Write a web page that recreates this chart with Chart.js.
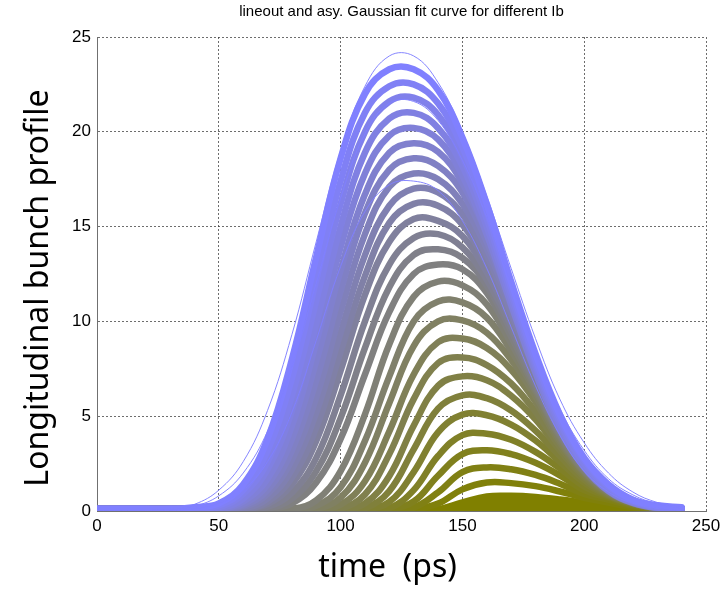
<!DOCTYPE html>
<html>
<head>
<meta charset="utf-8">
<title>lineout and asy. Gaussian fit curve</title>
<script src="https://cdn.jsdelivr.net/npm/chart.js@4.4.1/dist/chart.umd.min.js"></script>
<style>
  html, body { margin: 0; padding: 0; background: #fff; }
  #wrap { width: 728px; height: 593px; }
</style>
</head>
<body>
<div id="wrap"><canvas id="chart"></canvas></div>
<script>
// time axis (ps), one sample every 10 ps
const times = [0,10,20,30,40,50,60,70,80,90,100,110,120,130,140,150,160,170,180,190,200,210,220,230,240];

// measured lineouts, highest bunch current first
const p00 = [0.1,0.1,0.1,0.1,0.2,0.4,1.4,3.8,8.0,13.4,18.6,22.0,23.3,23.3,22.2,19.7,16.2,12.1,8.3,5.1,2.8,1.4,0.6,0.3,0.2];
const p01 = [0.1,0.1,0.1,0.1,0.1,0.3,1.1,3.2,7.0,12.2,17.4,21.0,22.4,22.5,21.5,19.2,15.8,11.8,8.0,4.9,2.7,1.3,0.57,0.21,0.12];
const p02 = [0.1,0.1,0.1,0.1,0.1,0.2,0.9,2.6,6.1,11.1,16.2,20.0,21.6,21.8,20.9,18.7,15.4,11.5,7.8,4.7,2.5,1.2,0.52,0.2,0.1];
const p03 = [0.1,0.1,0.1,0.1,0.1,0.15,0.65,2.2,5.3,9.9,15.0,18.9,20.7,21.0,20.2,18.2,15.0,11.2,7.6,4.5,2.4,1.1,0.48,0.18,0.1];
const p04 = [0.1,0.1,0.1,0.1,0.1,0.1,0.5,1.7,4.5,8.9,13.9,17.8,19.8,20.2,19.6,17.7,14.6,10.9,7.3,4.3,2.3,1.05,0.43,0.16,0.1];
const p05 = [0.1,0.1,0.1,0.1,0.1,0.1,0.37,1.4,3.8,7.9,12.7,16.7,18.9,19.4,18.95,17.3,14.6,11.2,7.75,4.8,2.65,1.3,0.56,0.22,0.1];
const p06 = [0.1,0.1,0.1,0.1,0.1,0.1,0.28,1.1,3.2,6.9,11.6,15.7,18.0,18.6,18.2,16.8,14.2,11.0,7.6,4.75,2.6,1.3,0.57,0.22,0.1];
const p07 = [0.1,0.1,0.1,0.1,0.1,0.1,0.2,0.9,2.7,6.0,10.5,14.6,17.1,17.8,17.5,16.2,13.85,10.8,7.5,4.7,2.6,1.3,0.57,0.22,0.1];
const p08 = [0.1,0.1,0.1,0.1,0.1,0.1,0.14,0.66,2.2,5.2,9.4,13.5,16.1,17.0,16.8,15.65,13.5,10.5,7.4,4.7,2.6,1.3,0.56,0.22,0.1];
const p09 = [0.1,0.1,0.1,0.1,0.1,0.1,0.1,0.49,1.75,4.4,8.4,12.4,15.2,16.2,16.1,15.1,13.05,10.3,7.3,4.65,2.6,1.3,0.56,0.22,0.1];
const p10 = [0.1,0.1,0.1,0.1,0.1,0.1,0.1,0.37,1.4,3.7,7.4,11.4,14.2,15.4,15.3,14.5,12.6,10.0,7.15,4.6,2.6,1.3,0.55,0.22,0.1];
const p11 = [0.1,0.1,0.1,0.1,0.1,0.1,0.1,0.23,0.96,2.8,6.1,10.0,13.0,14.4,14.6,13.9,12.2,9.75,6.9,4.42,2.47,1.21,0.51,0.19,0.1];
const p12 = [0.1,0.1,0.1,0.1,0.1,0.1,0.1,0.13,0.65,2.1,4.9,8.6,11.8,13.5,13.8,13.35,11.9,9.5,6.75,4.2,2.35,1.15,0.48,0.18,0.1];
const p13 = [0.1,0.1,0.1,0.1,0.1,0.1,0.1,0.1,0.4,1.5,3.8,7.2,10.5,12.5,13.0,12.75,11.5,9.2,6.6,4.1,2.25,1.1,0.46,0.17,0.1];
const p14 = [0.1,0.1,0.1,0.1,0.1,0.1,0.1,0.1,0.1,0.56,2.1,5.1,8.8,11.3,12.1,11.9,10.9,8.85,6.45,4.0,2.15,1.05,0.45,0.16,0.1];
const p15 = [0.1,0.1,0.1,0.1,0.1,0.1,0.1,0.1,0.1,0.27,1.25,3.7,7.1,10.0,11.05,11.0,10.2,8.45,6.3,3.9,2.1,1.02,0.44,0.16,0.1];
const p16 = [0.1,0.1,0.1,0.1,0.1,0.1,0.1,0.1,0.1,0.11,0.7,2.55,5.7,8.7,10.0,10.05,9.4,7.98,6.05,3.75,2.05,0.98,0.43,0.15,0.1];
const p17 = [0.1,0.1,0.1,0.1,0.1,0.1,0.1,0.1,0.1,0.1,0.33,1.57,4.2,7.2,8.9,9.1,8.6,7.45,5.76,3.6,2.0,0.95,0.42,0.15,0.1];
const p18 = [0.1,0.1,0.1,0.1,0.1,0.1,0.1,0.1,0.1,0.1,0.13,0.87,3.0,5.9,7.8,8.1,7.7,6.73,5.24,3.4,1.9,0.92,0.41,0.14,0.1];
const p19 = [0.1,0.1,0.1,0.1,0.1,0.1,0.1,0.1,0.1,0.1,0.1,0.4,1.85,4.5,6.6,7.1,6.9,6.08,4.83,3.2,1.8,0.88,0.4,0.14,0.1];
const p20 = [0.1,0.1,0.1,0.1,0.1,0.1,0.1,0.1,0.1,0.1,0.1,0.15,1.05,3.25,5.4,6.1,5.95,5.3,4.24,2.9,1.65,0.84,0.38,0.13,0.1];
const p21 = [0.1,0.1,0.1,0.1,0.1,0.1,0.1,0.1,0.1,0.1,0.1,0.1,0.48,2.05,4.15,5.08,5.05,4.56,3.72,2.6,1.5,0.8,0.36,0.13,0.1];
const p22 = [0.1,0.1,0.1,0.1,0.1,0.1,0.1,0.1,0.1,0.1,0.1,0.1,0.15,1.1,2.9,4.0,4.08,3.76,3.12,2.25,1.3,0.76,0.34,0.12,0.1];
const p23 = [0.1,0.1,0.1,0.1,0.1,0.1,0.1,0.1,0.1,0.1,0.1,0.1,0.1,0.5,1.86,3.0,3.2,3.0,2.54,1.88,1.1,0.7,0.3,0.12,0.1];
const p24 = [0.1,0.1,0.1,0.1,0.1,0.1,0.1,0.1,0.1,0.1,0.1,0.1,0.1,0.18,0.98,2.05,2.3,2.2,1.9,1.44,0.9,0.6,0.26,0.11,0.1];
const p25 = [0.1,0.1,0.1,0.1,0.1,0.1,0.1,0.1,0.1,0.1,0.1,0.1,0.1,0.1,0.39,1.14,1.5,1.47,1.31,1.03,0.7,0.45,0.2,0.1,0.1];
const p26 = [0.1,0.1,0.1,0.1,0.1,0.1,0.1,0.1,0.1,0.1,0.1,0.1,0.1,0.1,0.1,0.45,0.77,0.8,0.74,0.61,0.44,0.27,0.14,0.1,0.1];

// asymmetric gaussian fit curves (thin lines)
const fit00 = [0,0,0.02,0.08,0.35,1.1,2.6,5.3,9.3,14.2,19.0,22.4,24.0,24.0,22.6,20.0,16.6,12.8,9.1,5.9,3.6,2.0,1.0,0.45,0.2];
const fit03 = [0,0,0.02,0.06,0.25,0.8,2.0,4.2,7.6,12.0,16.5,19.9,21.5,21.6,20.6,18.5,15.5,12.0,8.5,5.4,3.2,1.7,0.85,0.38,0.15];
const fit08 = [0,0,0,0.03,0.12,0.4,1.1,2.6,5.2,9.0,12.9,15.8,17.2,17.4,16.9,15.3,12.8,9.7,6.6,4.0,2.1,1.0,0.4,0.15,0.05];

const xTicks = [0, 50, 100, 150, 200, 250];
const yTicks = [0, 5, 10, 15, 20, 25];

const chartTitle = 'lineout and asy. Gaussian fit curve for different Ib';
const xTitle = 'time  (ps)';
const yTitle = 'Longitudinal bunch profile';

const profiles = [p00,p01,p02,p03,p04,p05,p06,p07,p08,p09,p10,p11,p12,p13,
                  p14,p15,p16,p17,p18,p19,p20,p21,p22,p23,p24,p25,p26];
const fits = [fit00, fit03, fit08];

function toPoints(arr) {
    return times.map((t, i) => ({ x: t, y: arr[i] }));
}

// blue for the top profile fading to olive for the lowest one
function profileColor(k) {
    const b = Math.round(255 * (1 - k / (profiles.length - 1)));
    return `rgb(128,128,${b})`;
}

const datasets = [];
fits.forEach((f, i) => {
    datasets.push({
        data: toPoints(f),
        borderColor: 'rgba(128,128,255,0.95)',
        borderWidth: 1,
        pointRadius: 0,
        tension: 0.4,
        order: i
    });
});
profiles.forEach((p, k) => {
    const last = k === profiles.length - 1;
    datasets.push({
        data: toPoints(p),
        borderColor: profileColor(k),
        backgroundColor: profileColor(k),
        borderWidth: 6.5,
        borderCapStyle: 'round',
        borderJoinStyle: 'round',
        pointRadius: 0,
        tension: 0.4,
        fill: last ? 'origin' : false,
        order: 10 + k
    });
});

const axisTitles = {
    id: 'axisTitles',
    afterDraw(chart) {
        const { ctx, chartArea } = chart;
        const midX = (chartArea.left + chartArea.right) / 2;
        const midY = (chartArea.top + chartArea.bottom) / 2;
        ctx.save();
        ctx.fillStyle = '#000';
        ctx.font = '32px "Noto Sans"';
        ctx.textAlign = 'center';
        ctx.textBaseline = 'alphabetic';
        ctx.fillText(xTitle, midX - 14, chartArea.bottom + 66);
        ctx.translate(48, midY + 14);
        ctx.rotate(-Math.PI / 2);
        ctx.fillText(yTitle, 0, 0);
        ctx.restore();
    }
};

const gridStyle = { color: 'rgba(60,60,60,0.75)', lineWidth: 1, drawTicks: false };
const borderStyle = { color: '#707070', width: 1, dash: [2, 2] };
const tickFont = { family: '"Liberation Sans", Arial, sans-serif', size: 17 };

new Chart(document.getElementById('chart'), {
    type: 'line',
    data: { datasets: datasets },
    plugins: [axisTitles],
    options: {
        responsive: true,
        maintainAspectRatio: false,
        animation: false,
        layout: { padding: { left: 0, right: 22, top: 0, bottom: 0 } },
        plugins: {
            legend: { display: false },
            tooltip: { enabled: false },
            title: {
                display: true,
                text: chartTitle,
                fullSize: false,
                color: '#000',
                font: { family: '"Liberation Sans", Arial, sans-serif', size: 15, weight: 'normal' },
                padding: { top: 3, bottom: 16 }
            }
        },
        scales: {
            x: {
                type: 'linear',
                min: xTicks[0],
                max: xTicks[xTicks.length - 1],
                z: 1,
                grid: gridStyle,
                border: borderStyle,
                afterBuildTicks: (scale) => { scale.ticks = xTicks.map(v => ({ value: v })); },
                ticks: { color: '#000', font: tickFont, padding: 5, maxRotation: 0 },
                afterFit: (scale) => { scale.height = 82; }
            },
            y: {
                type: 'linear',
                min: yTicks[0],
                max: yTicks[yTicks.length - 1],
                z: 1,
                grid: gridStyle,
                border: borderStyle,
                afterBuildTicks: (scale) => { scale.ticks = yTicks.map(v => ({ value: v })); },
                ticks: { color: '#000', font: tickFont, padding: 6 },
                afterFit: (scale) => { scale.width = 97; }
            }
        }
    }
});
</script>
</body>
</html>
